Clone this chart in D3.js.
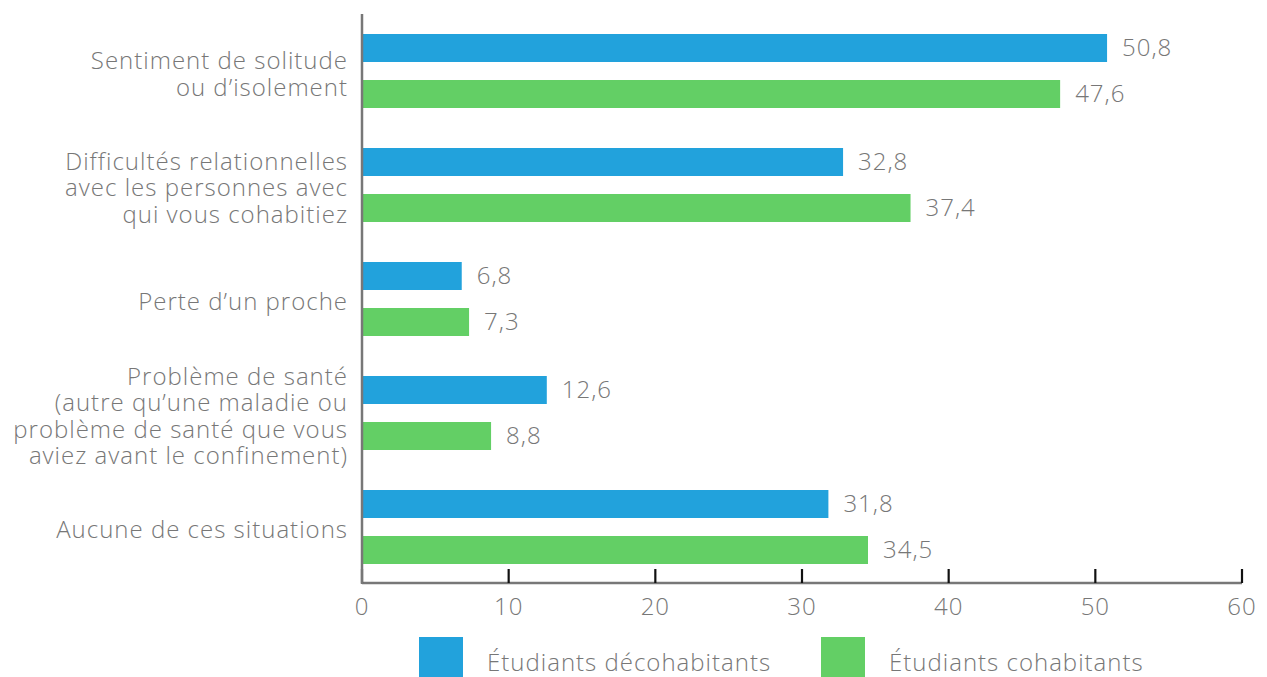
<!DOCTYPE html>
<html>
<head>
<meta charset="utf-8">
<script src="https://cdn.jsdelivr.net/npm/d3@7"></script>
<style>
  body { margin: 0; background: #fff; }
  svg text { font-family: "Open Sans", "Lato", sans-serif; font-weight: 300; fill: #777; letter-spacing: 1px; }
</style>
</head>
<body>
<svg width="1267" height="677"></svg>
<script>
var categories = [
  ["Sentiment de solitude", "ou d\u2019isolement"],
  ["Difficult\u00e9s relationnelles", "avec les personnes avec", "qui vous cohabitiez"],
  ["Perte d\u2019un proche"],
  ["Probl\u00e8me de sant\u00e9", "(autre qu\u2019une maladie ou", "probl\u00e8me de sant\u00e9 que vous", "aviez avant le confinement)"],
  ["Aucune de ces situations"]
];
var seriesNames = ["\u00c9tudiants d\u00e9cohabitants", "\u00c9tudiants cohabitants"];
var decohabitants = [50.8, 32.8, 6.8, 12.6, 31.8];
var cohabitants = [47.6, 37.4, 7.3, 8.8, 34.5];
var xTicks = [0, 10, 20, 30, 40, 50, 60];
var colors = ["#22a2dc", "#63cf65"];

var svg = d3.select("svg");

var x = d3.scaleLinear().domain([0, 60]).range([362, 1242]);
var y = d3.scaleBand().domain(d3.range(categories.length)).range([20, 590]);
var sub = d3.scaleBand().domain([0, 1]).range([14, 88]).paddingInner(0.3913);

var fmt = function(v) { return d3.format(".1f")(v).replace(".", ","); };

var g = svg.append("g");
var groups = g.selectAll(".grp")
  .data(categories.map(function(c, i) { return { label: c, vals: [decohabitants[i], cohabitants[i]], i: i }; }))
  .enter().append("g")
    .attr("class", "grp")
    .attr("transform", function(d) { return "translate(0," + y(d.i) + ")"; });

groups.selectAll("rect")
  .data(function(d) { return d.vals; })
  .enter().append("rect")
    .attr("x", x(0))
    .attr("y", function(d, j) { return sub(j); })
    .attr("width", function(d) { return x(d) - x(0); })
    .attr("height", sub.bandwidth())
    .attr("fill", function(d, j) { return colors[j]; });

groups.selectAll(".val")
  .data(function(d) { return d.vals; })
  .enter().append("text")
    .attr("class", "val")
    .attr("x", function(d) { return x(d) + 15; })
    .attr("y", function(d, j) { return sub(j) + sub.bandwidth() / 2; })
    .attr("dy", "0.35em")
    .style("font-size", "24px")
    .text(fmt);

// category labels
groups.append("text")
  .attr("text-anchor", "end")
  .style("font-size", "24px")
  .each(function(d) {
    var t = d3.select(this), n = d.label.length, lh = 26.4;
    var mid = (sub(0) + sub(1) + sub.bandwidth()) / 2 + 3;
    d.label.forEach(function(line, k) {
      t.append("tspan")
        .attr("x", 348)
        .attr("y", mid + (k - (n - 1) / 2) * lh)
        .attr("dy", "0.35em")
        .text(line);
    });
  });

// x axis
var xAxis = svg.append("g").attr("transform", "translate(0,583)");
xAxis.append("line")
  .attr("x1", x(0)).attr("x2", x(60))
  .attr("stroke", "#777").attr("stroke-width", 2.5);
xAxis.selectAll(".tick")
  .data(xTicks)
  .enter().append("line")
    .attr("x1", function(d) { return x(d); }).attr("x2", function(d) { return x(d); })
    .attr("y1", -14).attr("y2", 0)
    .attr("stroke", "#111").attr("stroke-width", 2.2);
xAxis.selectAll(".lbl")
  .data(xTicks)
  .enter().append("text")
    .attr("x", function(d) { return x(d); })
    .attr("y", 24)
    .attr("dy", "0.35em")
    .attr("text-anchor", "middle")
    .style("font-size", "24px")
    .text(function(d) { return d; });

// y axis line
svg.append("line")
  .attr("x1", x(0)).attr("x2", x(0))
  .attr("y1", 14).attr("y2", 584)
  .attr("stroke", "#777").attr("stroke-width", 2.5);

// legend
var legendX = [419, 821];
var leg = svg.selectAll(".leg")
  .data(seriesNames)
  .enter().append("g")
    .attr("class", "leg")
    .attr("transform", function(d, i) { return "translate(" + legendX[i] + ",637)"; });
leg.append("rect")
  .attr("width", 44).attr("height", 44)
  .attr("fill", function(d, i) { return colors[i]; });
leg.append("text")
  .attr("x", 68)
  .attr("y", 26)
  .attr("dy", "0.35em")
  .style("font-size", "24px")
  .text(function(d) { return d; });
</script>
</body>
</html>
